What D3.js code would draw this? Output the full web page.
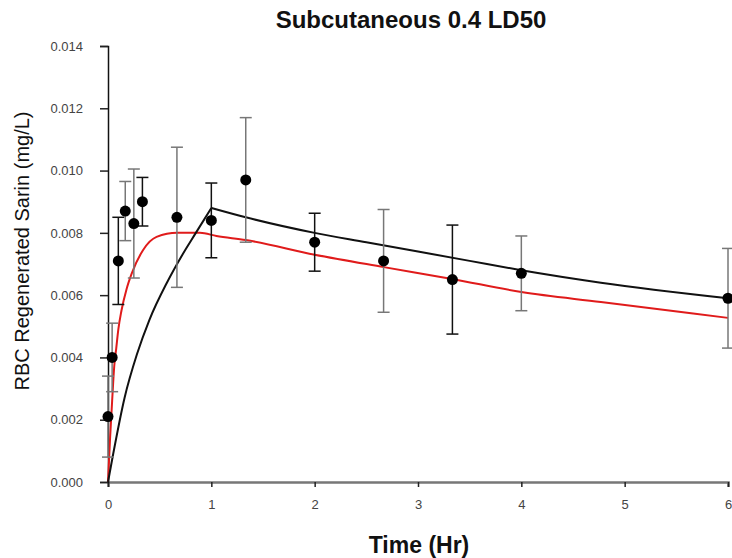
<!DOCTYPE html>
<html>
<head>
<meta charset="utf-8">
<script src="https://cdn.jsdelivr.net/npm/d3@7"></script>
<style>
    body { margin: 0; background: #fff; }
    svg { display: block; font-family: "Liberation Sans", Arial, sans-serif; }
</style>
</head>
<body>
<div id="chart"></div>
<script>
// Observed RBC regenerated sarin (mean +/- SD)
const timeHr = [0, 0.04, 0.1, 0.167, 0.25, 0.333, 0.667, 1, 1.333, 2, 2.667, 3.333, 4, 6];
const meanConc = [0.0021, 0.0040, 0.0071, 0.0087, 0.0083, 0.0090, 0.0085, 0.0084, 0.0097, 0.0077, 0.0071, 0.0065, 0.0067, 0.0059];
const sdConc = [0.0013, 0.0011, 0.0014, 0.00095, 0.00175, 0.00078, 0.00225, 0.0012, 0.002, 0.00093, 0.00165, 0.00175, 0.0012, 0.0016];

// Model curves
const blackT = [0, 0.05, 0.16, 0.28, 0.4, 0.57, 0.72, 0.85, 1.0, 1.333, 2, 2.5, 3, 3.5, 4, 4.77, 6];
const blackC = [0, 0.0009, 0.0027, 0.0041, 0.0052, 0.0064, 0.0073, 0.0080, 0.0088, 0.0085, 0.0080, 0.0077, 0.0074, 0.0071, 0.0068, 0.0064, 0.0059];
const redT = [0, 0.02, 0.04, 0.06, 0.08, 0.1, 0.13, 0.18, 0.23, 0.34, 0.47, 0.67, 0.89, 1.05, 1.333, 2, 2.67, 3.33, 4, 4.77, 6];
const redC = [0, 0.0014, 0.0026, 0.0037, 0.0043, 0.0049, 0.0055, 0.0062, 0.0067, 0.00745, 0.00787, 0.0080, 0.0080, 0.0079, 0.00777, 0.0073, 0.0069, 0.00652, 0.0061, 0.00578, 0.00527];

const xTicks = [0, 1, 2, 3, 4, 5, 6];
const yTicks = [0, 0.002, 0.004, 0.006, 0.008, 0.010, 0.012, 0.014];

const width = 732, height = 558;

const svg = d3.select("#chart").append("svg")
    .attr("width", width)
    .attr("height", height);

const x = d3.scaleLinear().domain([0, 6]).range([108, 728]);
const y = d3.scaleLinear().domain([0, 0.014]).range([482, 46]);

// title
svg.append("text")
    .attr("x", 411)
    .attr("y", 28)
    .attr("text-anchor", "middle")
    .style("font-size", "24px")
    .style("font-weight", "bold")
    .style("fill", "#111")
    .text("Subcutaneous 0.4 LD50");

// axes
const xAxis = svg.append("g")
    .attr("transform", `translate(0,${y(0)})`)
    .call(d3.axisBottom(x).tickValues(xTicks).tickSize(5).tickPadding(13).tickFormat(d3.format("d")));
xAxis.select(".domain").attr("stroke", "#777").attr("stroke-width", 2.5);
xAxis.selectAll(".tick line").attr("stroke", "#222").attr("stroke-width", 1.5);
xAxis.selectAll("text").style("font-size", "13px").style("fill", "#444");

const yAxis = svg.append("g")
    .attr("transform", `translate(${x(0)},0)`)
    .call(d3.axisLeft(y).tickValues(yTicks).tickSize(8).tickPadding(17).tickFormat(d3.format(".3f")));
yAxis.select(".domain").attr("stroke", "#111").attr("stroke-width", 1.5);
yAxis.selectAll(".tick line").attr("stroke", "#222").attr("stroke-width", 1.5);
yAxis.selectAll("text").style("font-size", "13px").style("fill", "#444");

// axis titles
svg.append("text")
    .attr("x", 419)
    .attr("y", 553)
    .attr("text-anchor", "middle")
    .style("font-size", "23px")
    .style("font-weight", "bold")
    .style("fill", "#111")
    .text("Time (Hr)");

svg.append("text")
    .attr("transform", `translate(29,251) rotate(-90)`)
    .attr("text-anchor", "middle")
    .style("font-size", "20px")
    .style("fill", "#111")
    .text("RBC Regenerated Sarin (mg/L)");

// model lines
const line = d3.line()
    .x(d => x(d[0]))
    .y(d => y(d[1]))
    .curve(d3.curveMonotoneX);

const redPts = redT.map((t, i) => [t, redC[i]]);
const blackPts = blackT.map((t, i) => [t, blackC[i]]);
const peak = blackT.indexOf(1.0);

svg.append("path")
    .attr("d", line(redPts))
    .attr("fill", "none")
    .attr("stroke", "#e01b1b")
    .attr("stroke-width", 2);

[blackPts.slice(0, peak + 1), blackPts.slice(peak)].forEach(seg => {
    svg.append("path")
        .attr("d", line(seg))
        .attr("fill", "none")
        .attr("stroke", "#111")
        .attr("stroke-width", 2);
});

// error bars - some drawn grey, some black, as in the original
const greyBar = new Set([0, 1, 3, 4, 6, 8, 10, 12, 13]);
const obs = timeHr.map((t, i) => ({ t: t, m: meanConc[i], sd: sdConc[i], i: i }));

const bars = svg.append("g").selectAll("g")
    .data(obs)
    .enter()
    .append("g")
    .attr("stroke", d => greyBar.has(d.i) ? "#777" : "#111")
    .attr("stroke-width", 1.5);

bars.append("line")
    .attr("x1", d => x(d.t)).attr("x2", d => x(d.t))
    .attr("y1", d => y(d.m + d.sd)).attr("y2", d => y(d.m - d.sd));
bars.append("line")
    .attr("x1", d => x(d.t) - 6).attr("x2", d => x(d.t) + 6)
    .attr("y1", d => y(d.m + d.sd)).attr("y2", d => y(d.m + d.sd));
bars.append("line")
    .attr("x1", d => x(d.t) - 6).attr("x2", d => x(d.t) + 6)
    .attr("y1", d => y(d.m - d.sd)).attr("y2", d => y(d.m - d.sd));

// points
svg.append("g").selectAll("circle")
    .data(obs)
    .enter()
    .append("circle")
    .attr("cx", d => x(d.t))
    .attr("cy", d => y(d.m))
    .attr("r", 5.5)
    .attr("fill", "#000");
</script>
</body>
</html>
